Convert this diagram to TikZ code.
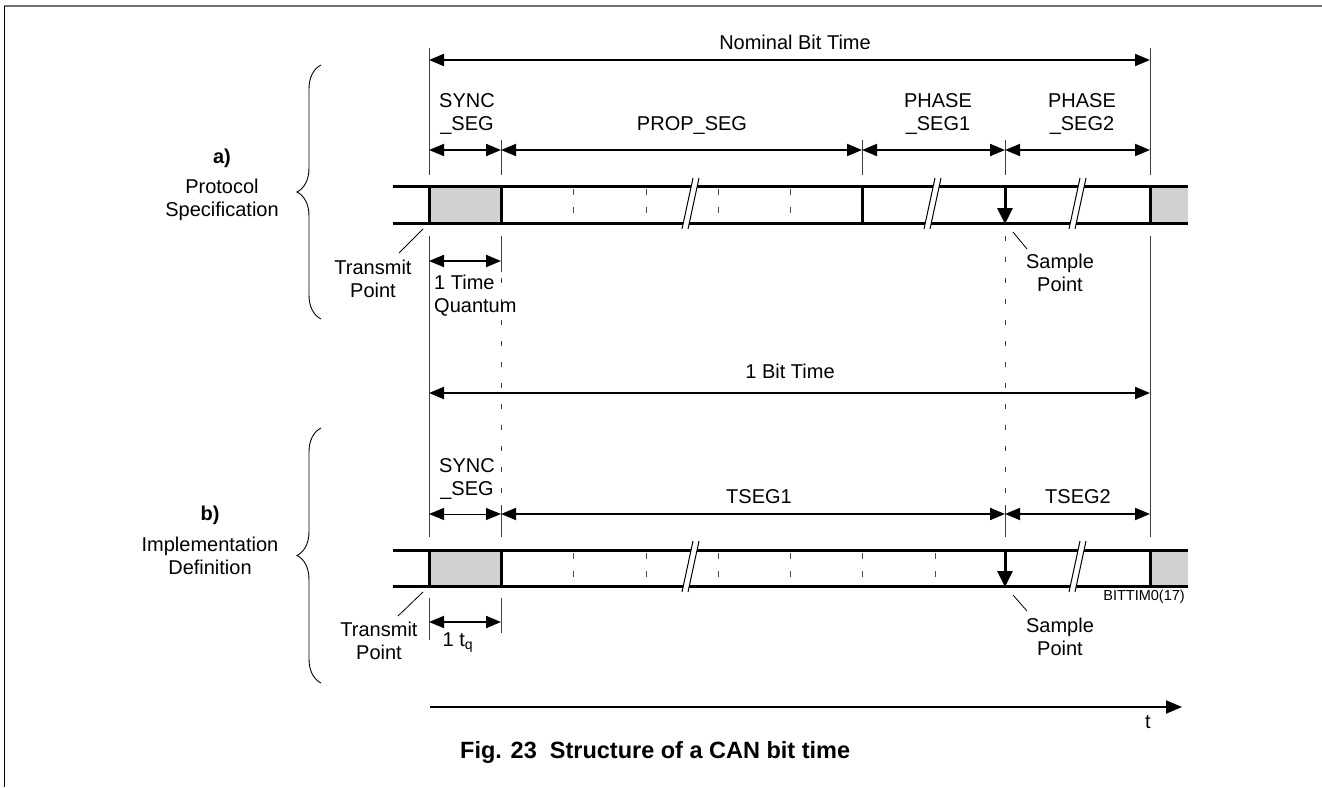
\documentclass[tikz,border=0pt]{standalone}
\usepackage{fontspec}
\setmainfont{Liberation Sans}
\usetikzlibrary{arrows.meta,decorations.pathreplacing}
\begin{document}
\begin{tikzpicture}[x=1pt,y=-1pt,
  lbl/.style={font=\fontsize{20}{23}\selectfont, inner sep=0pt, align=center},
  boldlbl/.style={font=\fontsize{20}{23}\selectfont\bfseries, inner sep=0pt},
  smalllbl/.style={font=\fontsize{14.5}{16}\selectfont, inner sep=0pt},
  captionlbl/.style={font=\fontsize{23.5}{26}\selectfont\bfseries, inner sep=0pt, anchor=west},
  tipstyle/.tip={Triangle[length=15pt,width=12pt]},
  dimarrow/.style={line width=2pt, tipstyle-tipstyle},
  thindim/.style={line width=1pt, tipstyle-tipstyle},
  extline/.style={line width=0.9pt, black!75},
  dashext/.style={extline, dash pattern=on 5pt off 16pt},
  barline/.style={line width=3pt},
  tickline/.style={line width=1pt, black!70, dash pattern=on 6pt off 12pt},
  leader/.style={line width=0.8pt},
  shadefill/.style={fill=black!18},
  samplearrow/.style={line width=3pt, -{Triangle[length=16pt 0 0,width=15pt 0 0]}},
  bracestyle/.style={decorate, decoration={brace, amplitude=24pt}, line width=0.9pt},
  brk/.pic={
    \fill[white] (-8,24) -- (-2,24) -- (9,-27) -- (3,-27) -- cycle;
    \draw[line width=1pt] (-8,24) -- (3,-27) (-2,24) -- (9,-27);
  }
]
\useasboundingbox (0,0) rectangle (1322,787);

% frame
\draw[black!55, line width=1.6pt] (4,6) -- (1322,6);
\draw[line width=1pt] (4,6) -- (4,787);

% ---------- extension lines ----------
\draw[extline] (429,48) -- (429,175) (429,236) -- (429,537) (429,598) -- (429,640);
\draw[extline] (501,140) -- (501,175) (501,236) -- (501,272) (501,505) -- (501,537) (501,598) -- (501,633);
\draw[dashext] (501,278) -- (501,505);
\draw[extline] (862,140) -- (862,175);
\draw[extline] (1005,140) -- (1005,175) (1005,505) -- (1005,537);
\draw[dashext] (1005,236) -- (1005,505);
\draw[extline] (1150,48) -- (1150,175) (1150,236) -- (1150,537);

% ---------- coordinates ----------
\coordinate (Na) at (429,60);   \coordinate (Nb) at (1150,60);
\coordinate (A0) at (429,150);  \coordinate (A1) at (501,150);
\coordinate (A2) at (862,150);  \coordinate (A3) at (1005,150);
\coordinate (A4) at (1150,150);
\coordinate (Q0) at (429,261);  \coordinate (Q1) at (501,261);
\coordinate (Ma) at (429,393);  \coordinate (Mb) at (1150,393);
\coordinate (B0) at (429,514);  \coordinate (B1) at (501,514);
\coordinate (B3) at (1005,514); \coordinate (B4) at (1150,514);
\coordinate (R0) at (429,622);  \coordinate (R1) at (501,622);
\coordinate (T0) at (430,707);  \coordinate (T1) at (1182,707);

% ---------- section a ----------
\node[lbl] (nbt) at (795,42) {Nominal Bit Time};
\draw[dimarrow] (Na) -- (Nb);
\node[lbl] (syncA) at (467,114.5) {SYNC\\\_SEG};
\node[lbl] (prop) at (692,126) {PROP\_SEG};
\node[lbl] (ph1) at (938,114.5) {PHASE\\\_SEG1};
\node[lbl] (ph2) at (1082,114.5) {PHASE\\\_SEG2};
\draw[dimarrow] (A0) -- (A1);
\draw[dimarrow] (A1) -- (A2);
\draw[dimarrow] (A2) -- (A3);
\draw[dimarrow] (A3) -- (A4);

% bar a
\fill[shadefill] (429,186) rectangle (501,223);
\fill[shadefill] (1150,186) rectangle (1188,223);
\foreach \x in {573,646,718,790} \draw[tickline] (\x,189) -- (\x,214);
\draw[barline] (393,186) -- (1188,186) (393,223) -- (1188,223);
\draw[barline] (429,186) -- (429,223) (501,186) -- (501,223) (862,186) -- (862,223) (1150,186) -- (1150,223);
\pic at (690,205) {brk};
\pic at (932,205) {brk};
\pic at (1077,205) {brk};
\draw[samplearrow] (1005,186) -- (1005,224);

\coordinate (tpa) at (423,229);
\node[lbl] (transA) at (373,278.5) {Transmit\\Point};
\draw[leader] (tpa) -- (399,253);
\coordinate (spa) at (1013,232);
\node[lbl] (sampA) at (1060,272.5) {Sample\\Point};
\draw[leader] (spa) -- (1027,249);

\draw[dimarrow] (Q0) -- (Q1);
\node[lbl, align=left, anchor=west] (quant) at (434,296) {1 Time\\Quantum};

\draw[bracestyle] (321,319) -- (321,65);
\node[boldlbl] (alab) at (222,158) {a)};
\node[lbl] (aspec) at (222,200) {Protocol\\Specification};

% ---------- section b ----------
\node[lbl] (obt) at (790,371) {1 Bit Time};
\draw[dimarrow] (Ma) -- (Mb);
\node[lbl] (syncB) at (467,478.5) {SYNC\\\_SEG};
\node[lbl] (ts1) at (759,497) {TSEG1};
\node[lbl] (ts2) at (1078,497) {TSEG2};
\draw[thindim] (B0) -- (B1);
\draw[dimarrow] (B1) -- (B3);
\draw[dimarrow] (B3) -- (B4);

% bar b
\fill[shadefill] (429,550) rectangle (501,586);
\fill[shadefill] (1150,550) rectangle (1188,586);
\foreach \x in {573,646,718,790,862,935} \draw[tickline] (\x,553) -- (\x,578);
\draw[barline] (393,550) -- (1188,550) (393,586) -- (1188,586);
\draw[barline] (429,550) -- (429,586) (501,550) -- (501,586) (1150,550) -- (1150,586);
\pic at (690,568) {brk};
\pic at (1077,568) {brk};
\draw[samplearrow] (1005,550) -- (1005,587);

\node[smalllbl] (code) at (1144,597) {BITTIM0(17)};

\coordinate (tpb) at (423,592);
\node[lbl] (transB) at (379,641) {Transmit\\Point};
\draw[leader] (tpb) -- (398,616);
\coordinate (spb) at (1013,595);
\node[lbl] (sampB) at (1060,636.5) {Sample\\Point};
\draw[leader] (spb) -- (1027,611);

\draw[dimarrow] (R0) -- (R1);
\node[lbl] (tq) at (458,643) {1 t\textsubscript{q}};

\draw[bracestyle] (321,683) -- (321,428);
\node[boldlbl] (blab) at (210,515) {b)};
\node[lbl] (bspec) at (210,556) {Implementation\\Definition};

% ---------- time axis & caption ----------
\draw[line width=2pt, -{Triangle[length=16pt,width=13pt]}] (T0) -- (T1);
\node[lbl] (tlab) at (1148,722) {t};
\node[captionlbl] (cap) at (460,752) {Fig. 23\ \ Structure of a CAN bit time};
\end{tikzpicture}
\end{document}
